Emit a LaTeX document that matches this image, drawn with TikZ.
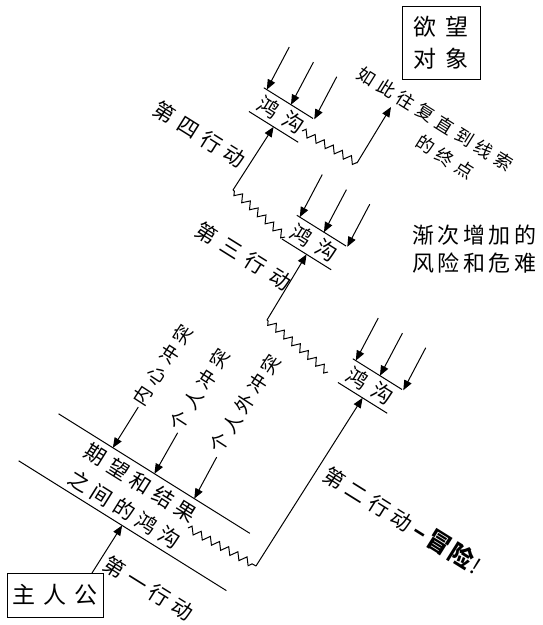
\documentclass[tikz,border=0pt]{standalone}
\usepackage{fontspec}
\newfontfamily\cjk{Noto Sans CJK SC}
\usetikzlibrary{arrows.meta,decorations.pathmorphing}

\newlength\lsgap
\def\lsend{\lsend}
\newcommand\ls[2]{\setlength\lsgap{#1}\lsloop#2\lsend}
\def\lsloop#1{\ifx#1\lsend\unskip\else#1\hskip\lsgap\relax\expandafter\lsloop\fi}

\tikzset{
  ln/.style={line width=1pt},
  arr/.style={ln,-{Triangle[length=10pt,width=8pt]}},
  zz/.style={ln,decorate,decoration={zigzag,segment length=10.5pt,amplitude=3.6pt}},
  tx/.style={font=\cjk\fontsize{21}{31}\selectfont, inner sep=0pt, align=center},
  gtx/.style={tx, rotate=-32},
  ctx/.style={font=\cjk\fontsize{19}{24}\selectfont, inner sep=0pt, rotate=57},
  boxed/.style={draw, ln, inner sep=0pt, align=center, font=\cjk\fontsize{23}{32}\selectfont},
}

\newcommand\gapunit[2]{%
  \begin{scope}[shift={#2}, rotate=-32]
    \coordinate (#1ua) at (-29,14);  \coordinate (#1ub) at (29,14);
    \coordinate (#1la) at (-29,-14); \coordinate (#1lb) at (29,-14);
    \coordinate (#1in) at (0,-14);
    \coordinate (#1t1) at (-29,62);  \coordinate (#1h1) at (-25.5,14);
    \coordinate (#1t2) at (-0.5,62); \coordinate (#1h2) at (3,14);
    \coordinate (#1t3) at (27,62);   \coordinate (#1h3) at (30.5,14);
  \end{scope}
  \node[gtx] (#1txt) at #2 {\ls{8pt}{鸿沟}};
  \draw[ln] (#1ua) -- (#1ub);
  \draw[ln] (#1la) -- (#1lb);
  \draw[arr] (#1t1) -- (#1h1);
  \draw[arr] (#1t2) -- (#1h2);
  \draw[arr] (#1t3) -- (#1h3);
}

\begin{document}
\begin{tikzpicture}[x=1pt,y=1pt]
\path[use as bounding box, fill=white] (0,0) rectangle (543,-625);

% hero
\node[boxed, minimum width=96pt, minimum height=44pt] (hero) at (55,-595) {\ls{8pt}{主人公}};
\coordinate (a1s) at (92,-573);

% big gap
\begin{scope}[shift={(138,-500)}, rotate=-32]
  \coordinate (g1ua) at (-113,31); \coordinate (g1ub) at (112.5,31);
  \coordinate (g1la) at (-122,-30); \coordinate (g1lb) at (123,-30);
  \coordinate (g1in) at (0,-30);
  \coordinate (g1t1) at (-49,79); \coordinate (g1h1) at (-49,31);
  \coordinate (g1t2) at (-2,78);  \coordinate (g1h2) at (0,31);
  \coordinate (g1t3) at (44,78);  \coordinate (g1h3) at (47,31);
\end{scope}
\node[gtx] (g1txt) at (132.5,-496) {\ls{5.5pt}{期望和结果}\\\ls{5.5pt}{之间的鸿沟}};
\draw[ln] (g1ua) -- (g1ub);
\draw[ln] (g1la) -- (g1lb);
\draw[arr] (a1s) -- (g1in);
\draw[arr] (g1t1) -- (g1h1);
\draw[arr] (g1t2) -- (g1h2);
\draw[arr] (g1t3) -- (g1h3);

\node[ctx] (c1) at (162.5,-365) {\ls{5.5pt}{内心冲突}};
\node[ctx] (c2) at (200,-389.5) {\ls{5.5pt}{个人冲突}};
\node[ctx] (c3) at (245,-403.5) {\ls{4.5pt}{个人外冲突}};
\node[gtx] (l1) at (148.5,-588.5) {\ls{5.5pt}{第一行动}};

% small gaps
\gapunit{g2}{(370,-386)}
\gapunit{g3}{(314,-242.5)}
\gapunit{g4}{(281,-115)}

% zigzags and actions
\coordinate (z1a) at (188,-528); \coordinate (z1b) at (256,-566);
\draw[zz] (z1a) -- (z1b);
\draw[arr] (z1b) -- (g2in);
\node[gtx, anchor=west] (l2) at (326,-471.5) {\ls{5.5pt}{第二行动}\hskip5pt{\bfseries\fontsize{24}{24}\selectfont –\hskip3pt\ls{2pt}{冒险}}\hskip2pt{\fontsize{22}{24}\selectfont !}};

\coordinate (z2a) at (328,-372); \coordinate (z2b) at (267,-320);
\draw[zz] (z2a) -- (z2b);
\draw[arr] (z2b) -- (g3in);
\node[gtx] (l3) at (243.5,-256) {\ls{8pt}{第三行动}};

\coordinate (z3a) at (285,-237); \coordinate (z3b) at (233,-190);
\draw[zz] (z3a) -- (z3b);
\draw[arr] (z3b) -- (g4in);
\node[gtx] (l4) at (200,-134.5) {\ls{6.5pt}{第四行动}};

\coordinate (z4a) at (302,-131); \coordinate (z4b) at (357,-163);
\draw[zz] (z4a) -- (z4b);
\coordinate (endtip) at (391,-107);
\draw[arr] (z4b) -- (endtip);

\node[gtx, font=\cjk\fontsize{18}{22}\selectfont] (e1) at (435.5,-119) {\ls{5pt}{如此往复直到线索}};
\node[gtx, font=\cjk\fontsize{18}{22}\selectfont] (e2) at (445,-157) {\ls{5pt}{的终点}};

\node[tx, font=\cjk\fontsize{22}{28}\selectfont] (risk) at (474.5,-249) {\ls{3.5pt}{渐次增加的}\\\ls{3.5pt}{风险和危难}};

\node[boxed, minimum width=78pt, minimum height=73pt] (goal) at (441,-42.5) {\ls{10pt}{欲望}\\\ls{10pt}{对象}};
\end{tikzpicture}
\end{document}
